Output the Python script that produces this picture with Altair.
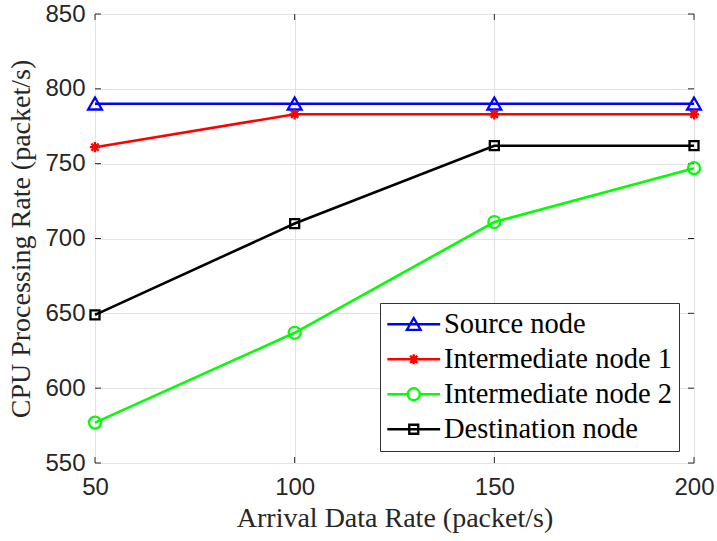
import altair as alt
import pandas as pd

x_rates = [50, 100, 150, 200]
series_names = ["Source node", "Intermediate node 1", "Intermediate node 2", "Destination node"]
source = [790, 790, 790, 790]
inter1 = [761, 783, 783, 783]
inter2 = [577, 637, 711, 747]
dest = [649, 710, 762, 762]
colors = ["#0000FF", "#FF0000", "#00FF00", "#000000"]
y_ticks = [550, 600, 650, 700, 750, 800, 850]
x_ticks = [50, 100, 150, 200]

tri = "M0,-1.05L1.15,0.95L-1.15,0.95Z"
star = "M0,-0.85V0.85M-0.85,0H0.85M-0.6,-0.6L0.6,0.6M-0.6,0.6L0.6,-0.6"
circ = "M1,0A1,1 0 1,1 -1,0A1,1 0 1,1 1,0Z"
sq = "M-0.75,-0.75H0.75V0.75H-0.75Z"
markers = [tri, star, circ, sq]
line_seg = "M-4.4,0H-1.1M1.1,0H4.4"
line_full = "M-4.4,0H4.4"
legend_paths = [line_full + tri, line_full + star, line_seg + circ, line_full + sq]

rows = []
for name, vals in zip(series_names, [source, inter1, inter2, dest]):
    for xv, yv in zip(x_rates, vals):
        rows.append({"rate": xv, "cpu": yv, "series": name})
df = pd.DataFrame(rows)

W, H = 599, 449

xs = alt.Scale(domain=[50, 200], nice=False)
ys = alt.Scale(domain=[550, 850], nice=False)
cscale = alt.Scale(domain=series_names, range=colors)

xax = alt.Axis(values=x_ticks, ticks=False, domain=False, grid=True, gridColor="#e3e3e3",
               labelFont="Liberation Sans", labelFontSize=24, labelColor="#262626", labelPadding=12,
               labelFlush=False,
               title="Arrival Data Rate (packet/s)", titleFont="Liberation Serif", titleFontSize=28,
               titleFontWeight="normal", titleColor="#262626", titlePadding=5)
yax = alt.Axis(values=y_ticks, ticks=False, domain=False, grid=True, gridColor="#e3e3e3",
               labelFont="Liberation Sans", labelFontSize=24, labelColor="#262626", labelPadding=10,
               labelFlush=False,
               title="CPU Processing Rate (packet/s)", titleFont="Liberation Serif", titleFontSize=28,
               titleFontWeight="normal", titleColor="#262626", titlePadding=9)

base = alt.Chart(df)

lines = base.mark_line(strokeWidth=2.6).encode(
    x=alt.X("rate:Q", scale=xs, axis=xax),
    y=alt.Y("cpu:Q", scale=ys, axis=yax),
    color=alt.Color("series:N", scale=cscale, legend=None),
    detail="series:N",
)

points = base.mark_point(filled=False, strokeWidth=2.3, size=144, opacity=1).encode(
    x=alt.X("rate:Q", scale=xs),
    y=alt.Y("cpu:Q", scale=ys),
    color=alt.Color("series:N", scale=cscale, legend=None),
    shape=alt.Shape("series:N", scale=alt.Scale(domain=series_names, range=markers), legend=None),
)

leg = dict(title=None, orient="none", legendX=285, legendY=289,
           labelFont="Liberation Serif", labelFontSize=28.5, labelColor="#000000",
           strokeColor="#333333", fillColor="#ffffff", padding=7,
           rowPadding=6, symbolOffset=12.5, labelOffset=16, symbolStrokeWidth=2.3,
           symbolSize=144, cornerRadius=0, labelLimit=400)

legend_layer = base.mark_point(filled=False, strokeWidth=2.3, size=144, opacity=1).encode(
    x=alt.X("rate:Q", scale=xs),
    y=alt.Y("cpu:Q", scale=ys),
    color=alt.Color("series:N", scale=cscale, legend=alt.Legend(**leg)),
    shape=alt.Shape("series:N", scale=alt.Scale(domain=series_names, range=legend_paths),
                    legend=alt.Legend(**leg)),
).transform_filter("false")

ytick_df = pd.DataFrame({"v": y_ticks})
xtick_df = pd.DataFrame({"v": x_ticks})
tick_color = "#262626"
yt_left = alt.Chart(ytick_df).mark_rule(color=tick_color, strokeWidth=1).encode(
    y=alt.Y("v:Q", scale=ys), x=alt.value(0), x2=alt.value(6))
yt_right = alt.Chart(ytick_df).mark_rule(color=tick_color, strokeWidth=1).encode(
    y=alt.Y("v:Q", scale=ys), x=alt.value(W - 6), x2=alt.value(W))
xt_bot = alt.Chart(xtick_df).mark_rule(color=tick_color, strokeWidth=1).encode(
    x=alt.X("v:Q", scale=xs), y=alt.value(H), y2=alt.value(H - 6))
xt_top = alt.Chart(xtick_df).mark_rule(color=tick_color, strokeWidth=1).encode(
    x=alt.X("v:Q", scale=xs), y=alt.value(0), y2=alt.value(6))

chart = alt.layer(
    yt_left, yt_right, xt_bot, xt_top, lines, points, legend_layer
).resolve_scale(shape="independent", color="independent").properties(
    width=W, height=H,
    autosize=alt.AutoSizeParams(type="none"),
    padding={"left": 95, "top": 14, "right": 23, "bottom": 78},
).configure_view(
    stroke="#262626", strokeWidth=1
).configure(background="white")

chart.save("out.html", embed_options={"renderer": "svg", "actions": False})
